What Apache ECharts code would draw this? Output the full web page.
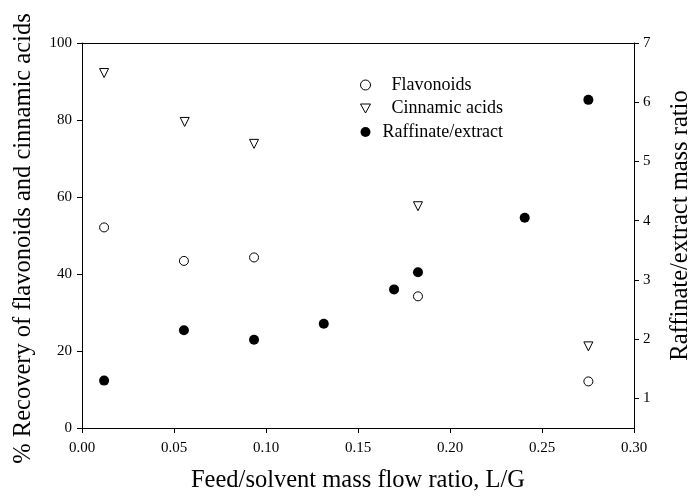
<!DOCTYPE html>
<html>
<head>
<meta charset="utf-8">
<script src="https://cdn.jsdelivr.net/npm/echarts@6.0.0/dist/echarts.min.js"></script>
<style>
  html, body { margin: 0; padding: 0; background: #fff; }
  #chart { width: 696px; height: 497px; }
</style>
</head>
<body>
<div id="chart"></div>
<script>
// feed/solvent ratio (L/G) for each series
var xFlav = [0.012, 0.0554, 0.0935, 0.1826, 0.2752];
var flavonoids = [52.1, 43.4, 44.3, 34.2, 12.1];

var xCinn = [0.012, 0.0558, 0.0935, 0.1826, 0.2752];
var cinnamic = [92.2, 79.5, 73.8, 57.6, 21.2];

var xRaff = [0.012, 0.0554, 0.0935, 0.1314, 0.1696, 0.1826, 0.2406, 0.2752];
var raffinate = [1.30, 2.15, 1.99, 2.26, 2.84, 3.13, 4.05, 6.04];

var rightTicks = [1, 2, 3, 4, 5, 6, 7];

function pairs(xs, ys) {
  return xs.map(function (x, i) { return [x, ys[i]]; });
}

var font = "Liberation Serif";
var labelStyle = { color: "#000", fontFamily: font, fontSize: 15 };
var lineStyle = { color: "#000", width: 1 };
// inverted triangle for the legend
var downTriangle = "path://M0,0L10,0L5,9Z";

var myChart = echarts.init(document.getElementById("chart"));
myChart.setOption({
  animation: false,
  grid: { left: 82, right: 62, top: 43, bottom: 69, outerBoundsMode: "none" },
  legend: {
    orient: "vertical",
    left: 355,
    top: 71,
    itemWidth: 10,
    itemHeight: 10,
    itemGap: 5.5,
    itemStyle: { borderWidth: 1 },
    textStyle: { color: "#000", fontFamily: font, fontSize: 18, padding: [0, 0, 0, 16] },
    data: [
      { name: "Flavonoids", icon: "circle" },
      { name: "Cinnamic acids", icon: downTriangle },
      { name: "Raffinate/extract", icon: "circle", textStyle: { padding: [0, 0, 0, 7] } }
    ]
  },
  xAxis: [
    {
      type: "value",
      min: 0,
      max: 0.3,
      interval: 0.05,
      position: "bottom",
      name: "Feed/solvent mass flow ratio, L/G",
      nameLocation: "middle",
      nameGap: 40,
      nameTextStyle: { color: "#000", fontFamily: font, fontSize: 24.5 },
      axisLine: { onZero: false, lineStyle: lineStyle },
      axisTick: { inside: false, length: 5, lineStyle: lineStyle },
      axisLabel: Object.assign({ margin: 13, formatter: function (v) { return v.toFixed(2); } }, labelStyle),
      splitLine: { show: false }
    },
    {
      type: "value",
      min: 0,
      max: 0.3,
      position: "top",
      axisLine: { onZero: false, lineStyle: lineStyle },
      axisTick: { show: false },
      axisLabel: { show: false },
      splitLine: { show: false }
    }
  ],
  yAxis: [
    {
      type: "value",
      min: 0,
      max: 100,
      interval: 20,
      position: "left",
      name: "% Recovery of flavonoids and cinnamic acids",
      nameLocation: "middle",
      nameGap: 46,
      nameTextStyle: { color: "#000", fontFamily: font, fontSize: 24.5, padding: [0, 6, 0, 0] },
      axisLine: { show: true, onZero: false, lineStyle: lineStyle },
      axisTick: { show: true, inside: false, length: 5, lineStyle: lineStyle },
      axisLabel: Object.assign({ margin: 10 }, labelStyle),
      splitLine: { show: false }
    },
    {
      type: "value",
      min: 0.5,
      max: 7,
      position: "right",
      name: "Raffinate/extract mass ratio",
      nameLocation: "middle",
      nameRotate: 90,
      nameGap: 34,
      nameTextStyle: { color: "#000", fontFamily: font, fontSize: 24.5, padding: [0, 0, 0, 20] },
      axisLine: { show: true, onZero: false, lineStyle: lineStyle },
      axisTick: { show: true, inside: false, length: 5, lineStyle: lineStyle, customValues: rightTicks },
      axisLabel: Object.assign({ margin: 9, customValues: rightTicks }, labelStyle),
      splitLine: { show: false }
    }
  ],
  series: [
    {
      name: "Flavonoids",
      type: "scatter",
      yAxisIndex: 0,
      symbol: "circle",
      symbolSize: 9,
      itemStyle: { color: "#fff", borderColor: "#000", borderWidth: 1, opacity: 1 },
      data: pairs(xFlav, flavonoids)
    },
    {
      name: "Cinnamic acids",
      type: "scatter",
      yAxisIndex: 0,
      symbol: "triangle",
      symbolRotate: 180,
      symbolSize: 9,
      itemStyle: { color: "#fff", borderColor: "#000", borderWidth: 1, opacity: 1 },
      data: pairs(xCinn, cinnamic)
    },
    {
      name: "Raffinate/extract",
      type: "scatter",
      yAxisIndex: 1,
      symbol: "circle",
      symbolSize: 10,
      itemStyle: { color: "#000", opacity: 1 },
      data: pairs(xRaff, raffinate)
    }
  ]
});
</script>
</body>
</html>
